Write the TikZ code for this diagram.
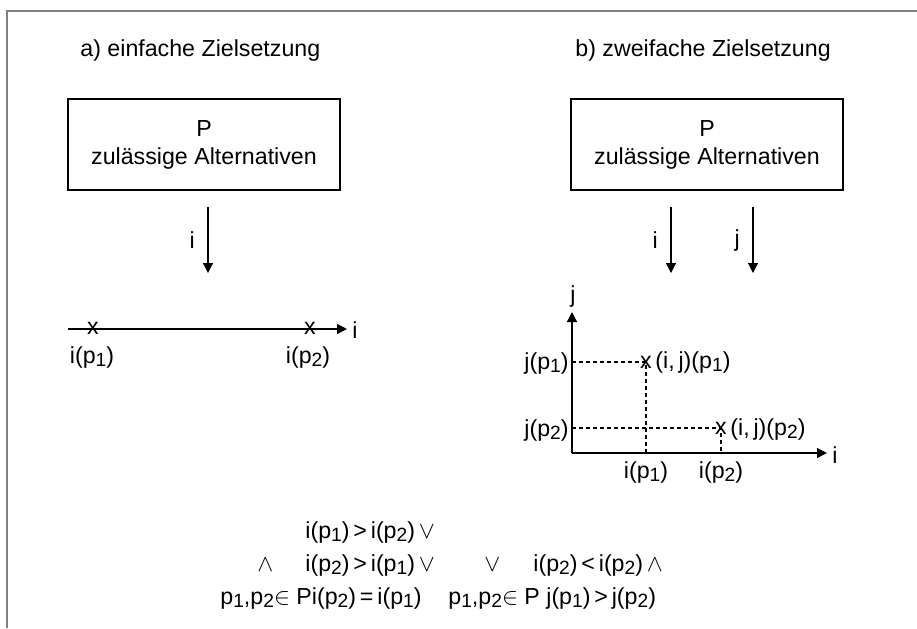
\documentclass[tikz,border=0pt]{standalone}
\usepackage{fontspec}
\setmainfont{Liberation Sans}
\usetikzlibrary{arrows.meta,positioning}

\newcommand{\low}[1]{\raisebox{-0.3ex}{\fontsize{9.6}{10}\selectfont #1}}
\newcommand{\ofp}[2]{#1(p\low{#2})}

\tikzset{
  every node/.style={font=\fontsize{11.6}{14}\selectfont},
  altbox/.style={draw,line width=0.6pt,minimum width=136pt,minimum height=45.5pt,align=center,inner sep=2pt},
  flow/.style={-{Triangle[length=5pt,width=5pt]},line width=0.55pt},
  axis/.style={-{Triangle[length=5pt,width=5pt]},line width=0.65pt},
  guide/.style={dashed,dash pattern=on 2pt off 1.5pt,line width=0.55pt},
  xmark/.style={inner sep=0pt},
  formula/.style={anchor=base west,inner sep=0pt}
}

\begin{document}
\begin{tikzpicture}[x=0.5pt,y=-0.5pt]
  \useasboundingbox (0,0) rectangle (917,628);
  % frame
  \draw[gray,line width=1pt] (7,628) -- (7,11) -- (917,11);

  % a) einfache Zielsetzung
  \node[anchor=west,inner sep=0pt] (ta) at (80,50) {a) einfache Zielsetzung};
  \node[altbox] (Pa) at (204,144.5) {P\\zulässige Alternativen};
  \coordinate (ia0) at (208,207);
  \coordinate (ia1) at (208,273);
  \draw[flow] (ia0) -- node[left=3pt] {i} (ia1);
  \coordinate (la0) at (68,329);
  \coordinate (la1) at (347,329);
  \draw[axis] (la0) -- (la1);
  \node[anchor=west,inner sep=0pt] (la) at (352,330) {i};
  \node[xmark] (xa1) at (93,328) {x};
  \node[xmark] (xa2) at (310,328) {x};
  \node (ipa1) at (92,357) {\ofp{i}{1}};
  \node (ipa2) at (308,357) {\ofp{i}{2}};

  % b) zweifache Zielsetzung
  \node[anchor=west,inner sep=0pt] (tb) at (575,50) {b) zweifache Zielsetzung};
  \node[altbox] (Pb) at (707,144.5) {P\\zulässige Alternativen};
  \coordinate (ib0) at (671,207);
  \coordinate (ib1) at (671,273);
  \coordinate (jb0) at (753,207);
  \coordinate (jb1) at (753,273);
  \draw[flow] (ib0) -- node[left=3pt] {i} (ib1);
  \draw[flow] (jb0) -- node[left=3pt] {j} (jb1);

  \coordinate (O) at (572,453);
  \coordinate (yt) at (572,312);
  \coordinate (xt) at (827,453);
  \draw[axis] (O) -- (yt);
  \draw[axis] (O) -- (xt);
  \node[inner sep=0pt] (jl) at (573,296) {j};
  \node[anchor=west,inner sep=0pt] (il) at (832,455) {i};

  \coordinate (q1) at (646,362);
  \coordinate (q2) at (721,428);
  \draw[guide] (O |- q1) -- (q1) -- (q1 |- O);
  \draw[guide] (O |- q2) -- (q2) -- (q2 |- O);
  \node[xmark] (xb1) at (q1) {x};
  \node[xmark] (xb2) at (q2) {x};
  \node[anchor=west,inner sep=0pt] (qq1) at (655,362) {(i,\,j)(p\low{1})};
  \node[anchor=west,inner sep=0pt] (qq2) at (730,429) {(i,\,j)(p\low{2})};
  \node[anchor=east,inner sep=1pt] (jp1) at (571,363) {\ofp{j}{1}};
  \node[anchor=east,inner sep=1pt] (jp2) at (571,430) {\ofp{j}{2}};
  \node (ipb1) at (646,472) {\ofp{i}{1}};
  \node (ipb2) at (721,472) {\ofp{i}{2}};

  % Bedingungen
  \node[formula] (f1) at (305,538) {\ofp{i}{1}\,>\,\ofp{i}{2}\,$\vee$};
  \node[formula] (f2a) at (257,571) {$\wedge$};
  \node[formula] (f2b) at (305,571) {\ofp{i}{2}\,>\,\ofp{i}{1}\,$\vee$};
  \node[formula] (f2c) at (484,571) {$\vee$};
  \node[formula] (f2d) at (533,571) {\ofp{i}{2}\,<\,\ofp{i}{2}\,$\wedge$};
  \node[formula] (f3a) at (220,604) {p\low{1},p\low{2}$\in$ P\ofp{i}{2}\,=\,\ofp{i}{1}};
  \node[formula] (f3b) at (448,604) {p\low{1},p\low{2}$\in$ P \ofp{j}{1}\,>\,\ofp{j}{2}};
\end{tikzpicture}
\end{document}
